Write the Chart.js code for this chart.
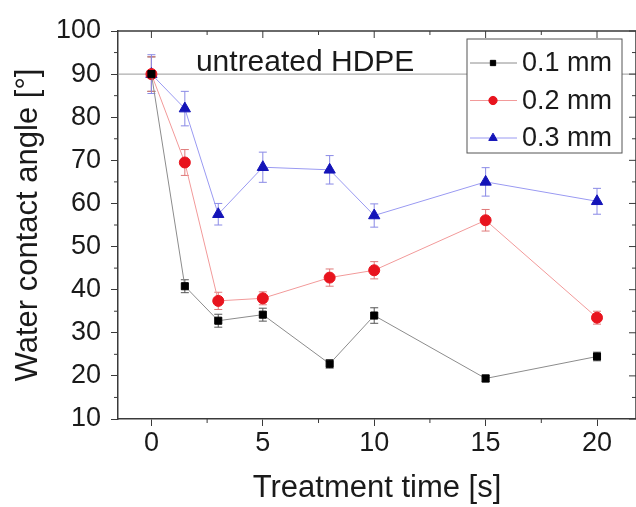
<!DOCTYPE html>
<html>
<head>
<meta charset="utf-8">
<script src="https://cdn.jsdelivr.net/npm/chart.js@4/dist/chart.umd.min.js"></script>
<style>
  body { margin: 0; background: #fff; }
  #wrap { width: 636px; height: 507px; }
</style>
</head>
<body>
<div id="wrap"><canvas id="angleChart"></canvas></div>
<script>
const FONT = '"Liberation Sans", Arial, sans-serif';
const TEXT = '#1a1a1a';
const AXIS = '#3a3a3a';

const times = [0, 1.5, 3, 5, 8, 10, 15, 20];
const seriesLabels = ['0.1 mm', '0.2 mm', '0.3 mm'];
const angle01 = [90, 40.8, 32.8, 34.2, 22.8, 34, 19.4, 24.5];
const err01 = [4, 1.5, 1.5, 1.5, 1, 1.8, 0.8, 1];
const angle02 = [90, 69.5, 37.4, 38, 42.8, 44.5, 56.1, 33.5];
const err02 = [4, 3, 2, 1.5, 2, 2, 2.5, 1.5];
const angle03 = [90, 82, 57.5, 68.4, 67.8, 57.2, 65, 60.5];
const err03 = [4.5, 4, 2.5, 3.5, 3.3, 2.7, 3.3, 3];
const untreatedAngle = 90;
const xTicks = [0, 5, 10, 15, 20];
const xMinor = [2.5, 7.5, 12.5, 17.5];
const yTicks = [10, 20, 30, 40, 50, 60, 70, 80, 90, 100];
const yMinor = [15, 25, 35, 45, 55, 65, 75, 85, 95];
const xMin = -1.5, xMax = 21.75;

const toPts = ys => times.map((t, i) => ({ x: t, y: ys[i] }));

const series = [
    { label: seriesLabels[0], data: toPts(angle01), err: err01, line: '#8c8c8c', marker: '#000000', errColor: '#555555', style: 'rect', radius: 5 },
    { label: seriesLabels[1], data: toPts(angle02), err: err02, line: '#f29a9a', marker: '#e8141e', errColor: '#e07a7a', style: 'circle', radius: 5.5 },
    { label: seriesLabels[2], data: toPts(angle03), err: err03, line: '#9a9af2', marker: '#1414b8', errColor: '#8a8ae6', style: 'triangle', radius: 6.5 }
];

const datasets = [{
    label: 'untreated',
    data: [{ x: xMin, y: untreatedAngle }, { x: xMax, y: untreatedAngle }],
    borderColor: '#9a9a9a', borderWidth: 1, pointRadius: 0, order: 5
}].concat(series.map(s => ({
    label: s.label,
    data: s.data,
    err: s.err,
    errColor: s.errColor,
    borderColor: s.line,
    borderWidth: 1,
    backgroundColor: s.marker,
    pointBackgroundColor: s.marker,
    pointBorderColor: s.marker,
    pointStyle: s.style,
    pointRadius: s.radius,
    pointBorderWidth: 1,
    tension: 0
})));

// error bars, drawn under the markers
const errorBars = {
    id: 'errorBars',
    beforeDatasetsDraw(chart) {
        const ctx = chart.ctx, xs = chart.scales.x, ys = chart.scales.y;
        chart.data.datasets.forEach(ds => {
            if (!ds.err) return;
            ctx.save();
            ctx.strokeStyle = ds.errColor;
            ctx.lineWidth = 1;
            ds.data.forEach((p, i) => {
                const px = xs.getPixelForValue(p.x);
                const top = ys.getPixelForValue(p.y + ds.err[i]);
                const bot = ys.getPixelForValue(p.y - ds.err[i]);
                ctx.beginPath();
                ctx.moveTo(px, top); ctx.lineTo(px, bot);
                ctx.moveTo(px - 4, top); ctx.lineTo(px + 4, top);
                ctx.moveTo(px - 4, bot); ctx.lineTo(px + 4, bot);
                ctx.stroke();
            });
            ctx.restore();
        });
    }
};

// box frame with minor ticks and inward ticks on top/right
const frame = {
    id: 'frame',
    afterDraw(chart) {
        const ctx = chart.ctx, a = chart.chartArea, xs = chart.scales.x, ys = chart.scales.y;
        ctx.save();
        ctx.strokeStyle = AXIS;
        ctx.lineWidth = 1.5;
        ctx.beginPath();
        ctx.moveTo(a.left, a.top); ctx.lineTo(a.right, a.top);
        ctx.moveTo(a.right, a.top); ctx.lineTo(a.right, a.bottom);
        ctx.stroke();
        ctx.lineWidth = 1;
        ctx.beginPath();
        xTicks.forEach(v => {
            const px = xs.getPixelForValue(v);
            ctx.moveTo(px, a.top); ctx.lineTo(px, a.top + 7);
        });
        xMinor.forEach(v => {
            const px = xs.getPixelForValue(v);
            ctx.moveTo(px, a.top); ctx.lineTo(px, a.top + 4);
            ctx.moveTo(px, a.bottom); ctx.lineTo(px, a.bottom + 4);
        });
        yTicks.forEach(v => {
            const py = ys.getPixelForValue(v);
            ctx.moveTo(a.right, py); ctx.lineTo(a.right - 7, py);
        });
        yMinor.forEach(v => {
            const py = ys.getPixelForValue(v);
            ctx.moveTo(a.left, py); ctx.lineTo(a.left - 4, py);
            ctx.moveTo(a.right, py); ctx.lineTo(a.right - 4, py);
        });
        ctx.stroke();

        // annotation
        ctx.fillStyle = TEXT;
        ctx.font = '30px ' + FONT;
        ctx.textAlign = 'center';
        ctx.textBaseline = 'middle';
        ctx.fillText('untreated HDPE', xs.getPixelForValue(6.9), ys.getPixelForValue(92.7));

        // legend box
        const bx = 467, by = 39, bw = 155, bh = 114;
        ctx.fillStyle = '#fff';
        ctx.fillRect(bx, by, bw, bh);
        ctx.strokeStyle = '#555';
        ctx.lineWidth = 1;
        ctx.strokeRect(bx, by, bw, bh);
        ctx.font = '27px ' + FONT;
        chart.data.datasets.slice(1).forEach((ds, i) => {
            const cy = by + 24 + i * 37.5;
            ctx.strokeStyle = ds.borderColor;
            ctx.beginPath();
            ctx.moveTo(bx + 3, cy); ctx.lineTo(bx + 50, cy);
            ctx.stroke();
            ctx.fillStyle = ds.pointBackgroundColor;
            ctx.strokeStyle = ds.pointBorderColor;
            Chart.helpers.drawPoint(ctx, { pointStyle: ds.pointStyle, radius: ds.pointRadius * 0.75, borderWidth: 1, rotation: 0 }, bx + 26, cy);
            ctx.fillStyle = TEXT;
            ctx.textAlign = 'left';
            ctx.fillText(ds.label, bx + 55, cy + 1);
        });
        ctx.restore();
    }
};

new Chart(document.getElementById('angleChart'), {
    type: 'line',
    data: { datasets: datasets },
    options: {
        responsive: true,
        maintainAspectRatio: false,
        animation: false,
        layout: { autoPadding: false, padding: { top: 31, right: 0, left: 0, bottom: 0 } },
        plugins: { legend: { display: false }, tooltip: { enabled: false } },
        scales: {
            x: {
                type: 'linear', min: xMin, max: xMax,
                afterBuildTicks: s => { s.ticks = xTicks.map(v => ({ value: v })); },
                afterFit: s => { s.height = 88; },
                grid: { drawOnChartArea: false, tickLength: 7, color: AXIS },
                border: { color: AXIS, width: 1.5 },
                ticks: { font: { family: FONT, size: 27 }, color: TEXT, padding: 1, maxRotation: 0 },
                title: { display: true, text: 'Treatment time [s]', font: { family: FONT, size: 31 }, color: TEXT, padding: { top: 0, bottom: 0 } }
            },
            y: {
                min: 10, max: 100,
                afterBuildTicks: s => { s.ticks = yTicks.map(v => ({ value: v })); },
                afterFit: s => { s.width = 118; },
                grid: { drawOnChartArea: false, tickLength: 7, color: AXIS },
                border: { color: AXIS, width: 1.5 },
                ticks: { font: { family: FONT, size: 27 }, color: TEXT, padding: 10 },
                title: { display: true, text: 'Water contact angle [°]', font: { family: FONT, size: 31 }, color: TEXT, padding: { top: 10, bottom: 0 } }
            }
        }
    },
    plugins: [errorBars, frame]
});
</script>
</body>
</html>
